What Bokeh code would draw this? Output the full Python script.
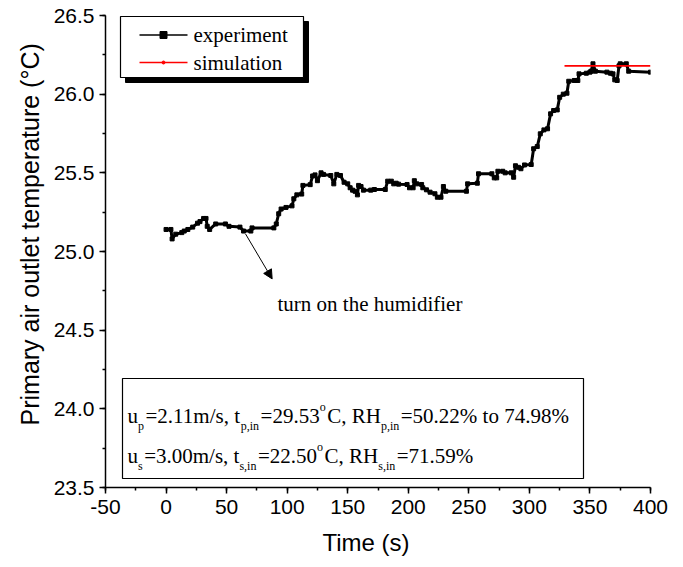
from bokeh.plotting import figure
from bokeh.models import (ColumnDataSource, SingleIntervalTicker, PrintfTickFormatter,
                          Arrow, NormalHead, Range1d, Title)
from bokeh.core.properties import value
from bokeh.embed import file_html
from bokeh.resources import INLINE

# ---------------- data ----------------
exp_t = [0, 4, 5, 8, 13, 15, 18, 22, 26, 28, 31, 33, 34, 36, 41, 49, 52, 61, 64, 70, 71, 89,
         91, 93, 95, 99, 104, 105.5, 108, 112, 113, 119, 121, 123, 125, 128, 130, 136,
         138.5, 141, 144, 147, 150, 152, 154, 156, 158, 159, 161, 163, 169, 172, 181, 183,
         186, 188, 190, 192, 199, 201, 204, 205, 207, 211, 212, 215, 218, 222, 224, 227,
         229, 231, 248, 249, 257, 258, 269, 271, 273, 274, 278, 280, 285, 287, 288.5, 291,
         293, 296, 301.5, 303.5, 306.5, 309, 312, 315, 317.5, 320, 323, 325, 328, 331,
         332.5, 337, 340, 341, 347, 350, 351, 352.5, 354.5, 364, 367, 369, 370.5, 372.5,
         374, 375, 380, 382, 400]
exp_T = [25.14, 25.14, 25.08, 25.11, 25.12, 25.13, 25.14, 25.155, 25.18, 25.19, 25.21, 25.21,
         25.16, 25.14, 25.175, 25.175, 25.16, 25.155, 25.13, 25.13, 25.15, 25.15,
         25.175, 25.24, 25.27, 25.28, 25.29, 25.335, 25.36, 25.365, 25.42, 25.425, 25.48,
         25.487, 25.45, 25.50, 25.49, 25.483, 25.43, 25.49, 25.483, 25.44, 25.43, 25.405,
         25.39, 25.383, 25.36, 25.42, 25.413, 25.39, 25.39, 25.394, 25.394, 25.447,
         25.447, 25.43, 25.434, 25.428, 25.426, 25.405, 25.405, 25.45, 25.43, 25.426,
         25.405, 25.392, 25.377, 25.367, 25.345, 25.345, 25.413, 25.383, 25.383, 25.43,
         25.434, 25.494, 25.494, 25.468, 25.468, 25.51, 25.51, 25.50, 25.50, 25.472,
         25.545, 25.535, 25.526, 25.55, 25.553, 25.653, 25.667, 25.748, 25.773, 25.78,
         25.875, 25.896, 25.90, 25.98, 26.00, 26.006, 26.082, 26.087, 26.087, 26.129,
         26.133, 26.14, 26.146, 26.193, 26.146, 26.14, 26.133, 26.129, 26.091, 26.087,
         26.18, 26.193, 26.193, 26.146, 26.14]
sim_t = [329, 400]
sim_T = [26.18, 26.18]

series_names = ["experiment", "simulation"]
annotation_text = "turn on the humidifier"
arrow_from = (65.6, 25.112)
arrow_to = (87.6, 24.826)
x_title = "Time (s)"
y_title = "Primary air outlet temperature (°C)"

line1_runs = [("u", "n"), ("p", "sub"), ("=2.11m/s, t", "n"), ("p,in", "sub"), ("=29.53", "n"),
              ("o", "sup"), ("C, RH", "n"), ("p,in", "sub"), ("=50.22% to 74.98%", "n")]
line2_runs = [("u", "n"), ("s", "sub"), ("=3.00m/s, t", "n"), ("s,in", "sub"), ("=22.50", "n"),
              ("o", "sup"), ("C, RH", "n"), ("s,in", "sub"), ("=71.59%", "n")]

X0, X1 = -50, 400
Y0, Y1 = 23.5, 26.5

# ---------------- layout helpers ----------------
W, H = 683, 567
FL, FR, FT, FB = 105, 650, 15, 487   # frame in pixels


def px_x(px):
    return X0 + (px - FL) * (X1 - X0) / (FR - FL)


def px_y(py):
    return Y1 - (py - FT) * (Y1 - Y0) / (FB - FT)


TIMES = {' ': 250, ',': 250, '.': 250, '/': 278, '%': 833, '=': 564, 'C': 667, 'H': 722,
         'R': 667, 'i': 278, 'm': 778, 'n': 500, 'o': 500, 'p': 500, 's': 389, 't': 278,
         'u': 500}


def tw(s, size):
    return sum(TIMES.get(c, 500) for c in s) * size / 1000.0


SERIF = "Liberation Serif"
SANS = "Liberation Sans"

p = figure(width=W, height=H, output_backend="svg", toolbar_location=None,
           x_range=Range1d(X0, X1), y_range=Range1d(Y0, Y1),
           min_border_left=FL, min_border_right=W - FR, min_border_top=FT,
           min_border_bottom=H - FB)
p.outline_line_color = None
p.xgrid.visible = False
p.ygrid.visible = False
p.background_fill_color = "white"
p.border_fill_color = "white"

for ax in (p.xaxis[0], p.yaxis[0]):
    ax.axis_line_width = 1.5
    ax.axis_line_color = "black"
    ax.major_tick_line_width = 1.5
    ax.minor_tick_line_width = 1.5
    ax.major_tick_in = 0
    ax.major_tick_out = 6
    ax.minor_tick_in = 0
    ax.minor_tick_out = 3
    ax.major_label_text_font = SANS
    ax.major_label_text_font_size = "21px"
    ax.major_label_text_color = "black"

p.xaxis.major_label_standoff = 6
p.yaxis.major_label_standoff = 5
p.xaxis.ticker = SingleIntervalTicker(interval=50, num_minor_ticks=2)
p.yaxis.ticker = SingleIntervalTicker(interval=0.5, num_minor_ticks=2)
p.yaxis.formatter = PrintfTickFormatter(format="%.1f")
p.xaxis.formatter = PrintfTickFormatter(format="%d")

# axis titles (side panels)
p.add_layout(Title(text=y_title, align="left", offset=FB - 425, text_font=SANS,
                   text_font_size="25px", text_font_style="normal", text_color="black",
                   standoff=14), "left")
p.add_layout(Title(text=x_title, align="left", offset=322 - FL, text_font=SANS,
                   text_font_size="24px", text_font_style="normal", text_color="black",
                   standoff=20), "below")

# ---------------- boxes (drawn first) ----------------
lg_l, lg_r, lg_t, lg_b = 120, 303, 16, 77
p.quad(left=[px_x(lg_l + 5)], right=[px_x(lg_r + 5)], top=[px_y(lg_t + 5)],
       bottom=[px_y(lg_b + 5)], fill_color="black", line_color="black")
p.quad(left=[px_x(lg_l)], right=[px_x(lg_r)], top=[px_y(lg_t)], bottom=[px_y(lg_b)],
       fill_color="white", line_color="black", line_width=1.2)
p.quad(left=[px_x(122)], right=[px_x(583)], top=[px_y(378)], bottom=[px_y(478)],
       fill_color="white", line_color="black", line_width=1.2)

# ---------------- data series ----------------
src = ColumnDataSource(dict(t=exp_t, T=exp_T))
p.line("t", "T", source=src, line_color="black", line_width=3)
p.scatter("t", "T", source=src, marker="square", size=4, fill_color="black",
          line_color="black")
p.line(sim_t, sim_T, line_color="red", line_width=1.8)

# ---------------- arrow + annotation ----------------
p.add_layout(Arrow(end=NormalHead(size=9, fill_color="black", line_color="black", line_width=1),
                   x_start=arrow_from[0], y_start=arrow_from[1],
                   x_end=arrow_to[0], y_end=arrow_to[1], line_width=1, line_color="black"))
p.text(x=[px_x(277)], y=[px_y(303)], text=[annotation_text], text_font=value(SERIF),
       text_font_size=value("21px"), text_baseline="alphabetic", text_align="left",
       text_color="black")


def rich_line(runs, x0_px, base_px, main=21, sub=12):
    xs, ys, txt, xo, yo, sz = [], [], [], [], [], []
    off = 0.0
    for s, kind in runs:
        size = main if kind == "n" else sub
        dy = 0 if kind == "n" else (10 if kind == "sub" else -9)
        xs.append(px_x(x0_px))
        ys.append(px_y(base_px))
        txt.append(s)
        xo.append(off)
        yo.append(dy)
        sz.append("%dpx" % size)
        off += tw(s, size) + (1.5 if kind != "n" else 0)
    return dict(x=xs, y=ys, text=txt, xo=xo, yo=yo, sz=sz)


for runs, base in ((line1_runs, 415), (line2_runs, 455)):
    s = ColumnDataSource(rich_line(runs, 127, base))
    p.text(x="x", y="y", text="text", x_offset="xo", y_offset="yo", text_font_size="sz",
           source=s, text_font=value(SERIF), text_baseline="alphabetic", text_align="left",
           text_color="black")

# ---------------- legend (drawn) ----------------
row_y = [34.5, 62]
colors = ["black", "red"]
p.segment(x0=[px_x(139)] * 2, x1=[px_x(187)] * 2, y0=[px_y(r) for r in row_y],
          y1=[px_y(r) for r in row_y], line_color=colors, line_width=[1.5, 1.5])
p.scatter(x=[px_x(163)], y=[px_y(row_y[0])], marker="square", size=7, fill_color="black",
          line_color="black")
p.scatter(x=[px_x(163)], y=[px_y(row_y[1])], marker="circle", size=3, fill_color="red",
          line_color="red")
p.text(x=[px_x(193)] * 2, y=[px_y(r) for r in row_y], text=series_names,
       text_font=value(SERIF), text_font_size=value("21px"), text_baseline="middle",
       text_align="left", text_color="black")

open("out.html", "w").write(file_html(p, INLINE))
